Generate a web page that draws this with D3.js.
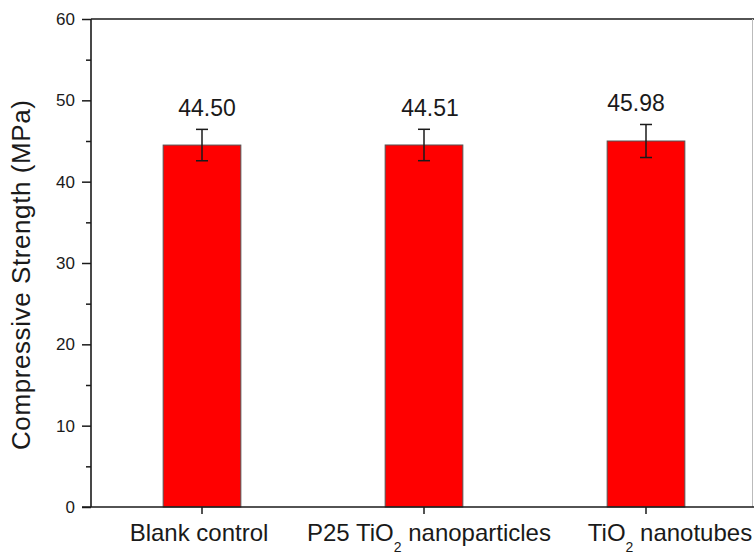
<!DOCTYPE html>
<html>
<head>
<meta charset="utf-8">
<script src="https://cdn.jsdelivr.net/npm/d3@7"></script>
<style>
  html, body { margin: 0; padding: 0; background: #fff; }
  svg { display: block; font-family: "Liberation Sans", Arial, sans-serif; }
</style>
</head>
<body>
<div id="chart"></div>
<script>
// Data
const categories = ["Blank control", "P25 TiO2 nanoparticles", "TiO2 nanotubes"];
const strength = [44.50, 44.51, 45.0];      // bar heights as drawn
const errors = [1.93, 1.93, 2.03];           // error bar half-lengths
const valueLabels = ["44.50", "44.51", "45.98"];
const yTicks = [0, 10, 20, 30, 40, 50, 60];
const yMinorTicks = [5, 15, 25, 35, 45, 55];

const width = 754, height = 554;
const plotLeft = 91, plotRight = 757, plotTop = 19, plotBottom = 507;
const ink = "#1a1a1a";

const svg = d3.select("#chart").append("svg")
    .attr("width", width)
    .attr("height", height);

const x = d3.scaleBand().domain(categories).range([plotLeft, plotRight]).padding(0);
const y = d3.scaleLinear().domain([0, 60]).range([plotBottom, plotTop]);
const barW = x.bandwidth() * 0.35;
const cx = d => x(d) + x.bandwidth() / 2;

// frame (top + right)
svg.append("line").attr("x1", plotLeft).attr("x2", width).attr("y1", plotTop).attr("y2", plotTop)
    .attr("stroke", ink).attr("stroke-width", 1.6);
svg.append("line").attr("x1", width - 1.5).attr("x2", width - 1.5).attr("y1", plotTop).attr("y2", plotBottom)
    .attr("stroke", "#bbb").attr("stroke-width", 1);

// bars
svg.append("g").selectAll("rect").data(categories).enter().append("rect")
    .attr("x", d => cx(d) - barW / 2)
    .attr("width", barW)
    .attr("y", (d, i) => y(strength[i]))
    .attr("height", (d, i) => y(0) - y(strength[i]))
    .attr("fill", "#ff0000")
    .attr("stroke", "#555")
    .attr("stroke-width", 1);

// error bars
const eb = svg.append("g").attr("stroke", ink).attr("stroke-width", 1.5);
categories.forEach((c, i) => {
    const hi = y(strength[i] + errors[i]), lo = y(strength[i] - errors[i]);
    eb.append("line").attr("x1", cx(c)).attr("x2", cx(c)).attr("y1", hi).attr("y2", lo);
    eb.append("line").attr("x1", cx(c) - 6).attr("x2", cx(c) + 6).attr("y1", hi).attr("y2", hi);
    eb.append("line").attr("x1", cx(c) - 6).attr("x2", cx(c) + 6).attr("y1", lo).attr("y2", lo);
});

// value labels (slightly off-centre in the original)
const valueNudge = [5, 6, -10];
svg.append("g").selectAll("text").data(categories).enter().append("text")
    .attr("x", (d, i) => cx(d) + valueNudge[i])
    .attr("y", (d, i) => y(strength[i] + errors[i]) - 13)
    .attr("text-anchor", "middle")
    .attr("font-size", "23px")
    .attr("fill", ink)
    .text((d, i) => valueLabels[i]);

// y axis (major + minor)
const yAxis = svg.append("g").attr("transform", `translate(${plotLeft},0)`)
    .call(d3.axisLeft(y).tickValues(yTicks).tickSize(9).tickPadding(7));
yAxis.select(".domain").remove();
yAxis.selectAll(".tick line").attr("stroke", ink).attr("stroke-width", 1.5);
yAxis.selectAll(".tick text").attr("font-size", "17px").attr("fill", ink)
    .attr("font-family", "Liberation Sans, Arial, sans-serif");

const yMinor = svg.append("g").attr("transform", `translate(${plotLeft},0)`)
    .call(d3.axisLeft(y).tickValues(yMinorTicks).tickSize(5).tickFormat(""));
yMinor.select(".domain").remove();
yMinor.selectAll(".tick line").attr("stroke", ink).attr("stroke-width", 1.5);

svg.append("line").attr("x1", plotLeft).attr("x2", plotLeft).attr("y1", plotTop).attr("y2", plotBottom)
    .attr("stroke", ink).attr("stroke-width", 1.6);

// x axis
const xAxis = svg.append("g").attr("transform", `translate(0,${plotBottom})`)
    .call(d3.axisBottom(x).tickSize(7).tickFormat(""));
xAxis.select(".domain").remove();
xAxis.selectAll(".tick line").attr("stroke", ink).attr("stroke-width", 1.5);
svg.append("line").attr("x1", plotLeft - 9).attr("x2", width).attr("y1", plotBottom).attr("y2", plotBottom)
    .attr("stroke", ink).attr("stroke-width", 1.6);

// category labels, with TiO2 subscript
const labelNudge = [-3, 5, 24];
categories.forEach((c, i) => {
    const t = svg.append("text")
        .attr("x", cx(c) + labelNudge[i])
        .attr("y", 541)
        .attr("text-anchor", "middle")
        .attr("font-size", "24px")
        .attr("fill", ink);
    const parts = c.split("TiO2");
    parts.forEach((p, k) => {
        if (k > 0) {
            t.append("tspan").text("TiO");
            t.append("tspan").attr("font-size", "14px").attr("dy", 11).text("2");
            t.append("tspan").attr("dy", -11).text(p);
        } else if (p) {
            t.append("tspan").text(p);
        }
    });
});

// y axis title
svg.append("text")
    .attr("transform", `translate(30,${(100 + 450) / 2}) rotate(-90)`)
    .attr("text-anchor", "middle")
    .attr("font-size", "26px")
    .attr("textLength", 350)
    .attr("lengthAdjust", "spacing")
    .attr("fill", ink)
    .text("Compressive Strength (MPa)");
</script>
</body>
</html>
